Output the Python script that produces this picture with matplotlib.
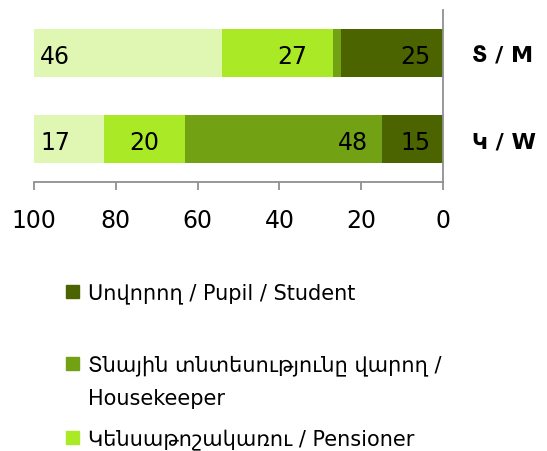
import matplotlib
matplotlib.use('Agg')
import matplotlib.pyplot as plt
import numpy as np
from matplotlib.patches import Rectangle

plt.rcParams['font.family'] = ['DejaVu Sans']

# Data
groups = ['Տ / M', 'Կ / W']
series_names = ['Սովորող / Pupil / Student',
                'Տնային տնտեսությունը վարող /\nHousekeeper',
                'Կենսաթոշակառու / Pensioner',
                'Այլ / Other']
pupil = [25, 15]
housekeeper = [2, 48]
pensioner = [27, 20]
other = [46, 17]
xticks = [0, 20, 40, 60, 80, 100]

series = [pupil, housekeeper, pensioner, other]
colors = ['#4b6400', '#72a213', '#a9e926', '#dff7b2']
# label placement: (anchor, offset) - 'base' = right side of segment, 'end' = left side
label_pos = [('base', 3.0), ('base', 3.4), ('base', 6.3), ('end', 1.5)]

W, H = 547, 452
fig = plt.figure(figsize=(W / 100, H / 100), dpi=100)
ax = fig.add_axes([34 / W, 1 - 183 / H, (443 - 34) / W, (183 - 11) / H])

y = np.arange(len(groups))
left = np.zeros(len(groups))
for vals, col, (anchor, off) in zip(series, colors, label_pos):
    vals = np.array(vals, dtype=float)
    ax.barh(y, vals, left=left, height=0.56, color=col, edgecolor='none')
    for yi, base, v in zip(y, left, vals):
        if v < 5:
            continue
        if anchor == 'base':
            ax.text(base + off, yi, '%d' % v, ha='right', va='center_baseline',
                    fontsize=17, color='black')
        else:
            ax.text(base + v - off, yi, '%d' % v, ha='left', va='center_baseline',
                    fontsize=17, color='black')
    left += vals

ax.set_xlim(100, 0)
ax.set_ylim(1.5, -0.5)

for s in ['top', 'left']:
    ax.spines[s].set_visible(False)
for s in ['right', 'bottom']:
    ax.spines[s].set_color('#909090')
    ax.spines[s].set_linewidth(1.3)

ax.set_xticks(xticks)
ax.set_xticklabels([str(t) for t in xticks])
ax.tick_params(axis='x', direction='out', length=6, width=1.3, color='#909090',
               labelsize=17, pad=13)
ax.yaxis.tick_right()
ax.set_yticks(y)
ax.set_yticklabels(groups, fontweight='bold', fontsize=16)
ax.tick_params(axis='y', length=0, pad=21)

# legend (drawn by hand, first three entries fit in the picture)
sq = 13
tops = [286, 358, 432]
for name, col, top in zip(series_names[:3], colors[:3], tops):
    fig.patches.append(Rectangle((66 / W, 1 - (top + sq) / H), sq / W, sq / H,
                                 transform=fig.transFigure, color=col))
    for k, line in enumerate(name.split('\n')):
        fig.text(88 / W, 1 - (top + sq + 34 * k) / H, line, ha='left',
                 va='baseline', fontsize=15, color='black')

fig.savefig('out.png', dpi=100)
